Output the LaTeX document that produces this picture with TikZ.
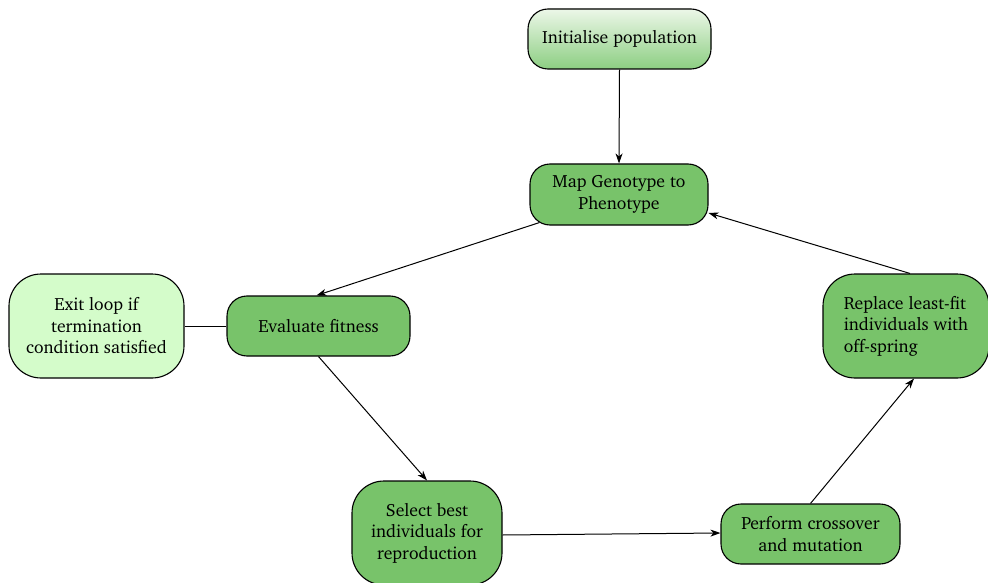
\documentclass[tikz,border=0pt]{standalone}
\usepackage[T1]{fontenc}
\usepackage{charter}
\usetikzlibrary{arrows.meta}
\definecolor{stepgreen}{RGB}{120,195,106}
\definecolor{exitgreen}{RGB}{212,252,202}
\definecolor{topgreen}{RGB}{236,247,232}
\definecolor{botgreen}{RGB}{140,206,130}
\tikzset{
  x=1pt, y=-1pt,
  stepbox/.style={draw=black, line width=1.1pt, rounded corners=20pt, fill=stepgreen,
    align=center, inner sep=0pt, font=\fontsize{17.7}{21.5}\selectfont},
  flow/.style={line width=1pt, -{Stealth[length=10pt,width=7pt,inset=3pt]}},
  link/.style={line width=1pt},
}
\begin{document}
\begin{tikzpicture}
\useasboundingbox (0,0) rectangle (988,583);
% process steps
\node[stepbox, top color=topgreen, bottom color=botgreen,
  minimum width=183pt, minimum height=60pt] (init) at (619.5,39) {Initialise population};
\node[stepbox, minimum width=178pt, minimum height=61pt] (map) at (619,194.5) {Map Genotype to\\Phenotype};
\node[stepbox, minimum width=183pt, minimum height=60pt] (eval) at (318.5,326) {Evaluate fitness};
\node[stepbox, fill=exitgreen, rounded corners=32pt, minimum width=175pt, minimum height=104pt] (exit) at (96.5,326) {Exit loop if\\termination\\condition satisfied};
\node[stepbox, rounded corners=32pt, minimum width=150pt, minimum height=104pt] (select) at (427,533) {Select best\\individuals for\\reproduction};
\node[stepbox, minimum width=179pt, minimum height=60pt] (cross) at (810.5,534) {Perform crossover\\and mutation};
\node[stepbox, align=left, rounded corners=32pt, minimum width=166pt, minimum height=104pt] (replace) at (906,326) {Replace least-fit\\individuals with\\off-spring};

% connectors
\draw[flow] (init.south) -- (map.north);
\draw[flow] ([xshift=10pt,yshift=3pt]map.south west) -- ([xshift=-2pt]eval.north);
\draw[link] (eval.west) -- (exit.east);
\draw[flow] (eval.south) -- (select.north);
\draw[flow] ([yshift=-2pt]select.east) -- ([yshift=1pt]cross.west);
\draw[flow] (cross.north) -- ([xshift=8pt]replace.south);
\draw[flow] ([xshift=4pt]replace.north) -- ([yshift=-18.5pt]map.east);
\end{tikzpicture}
\end{document}
